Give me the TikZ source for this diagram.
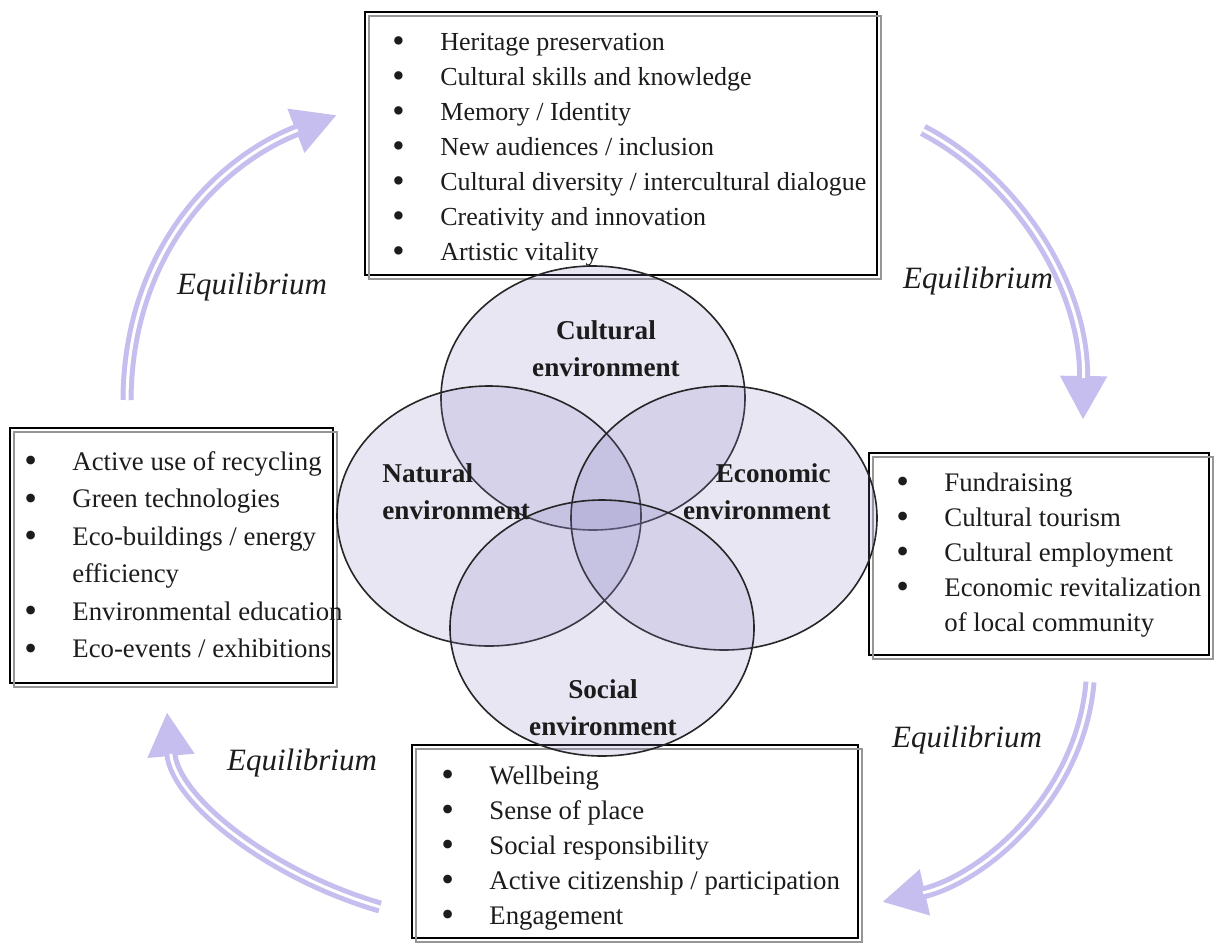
\documentclass[tikz,border=0pt]{standalone}
\usepackage{fontspec}
\setmainfont{Liberation Serif}
\usetikzlibrary{arrows.meta}
\definecolor{arrowcol}{RGB}{198,190,238}
\definecolor{vennfill}{RGB}{140,130,195}
\definecolor{txt}{RGB}{28,28,28}
\definecolor{shadowgray}{RGB}{150,150,150}
\newcommand\bul{\raisebox{-0.1em}{\scalebox{1.35}{\textbullet}}}
\begin{document}
\begin{tikzpicture}[x=0.5pt,y=-0.5pt,
  box/.style={draw=black, line width=1pt, fill=white},
  boxshadow/.style={draw=shadowgray, line width=0.7pt},
  venn/.style={draw=black!85, line width=0.8pt, fill=vennfill, fill opacity=0.2},
  lbl/.style={font=\fontsize{13.6}{18.5}\selectfont\bfseries, text=txt, inner sep=0pt},
  eq/.style={font=\fontsize{15.5}{17}\selectfont\itshape, text=txt, inner sep=0pt},
  list/.style={font=\fontsize{13.4}{17.5}\selectfont, text=txt, inner sep=0pt, anchor=base west},
  listtop/.style={list, font=\fontsize{13}{17.5}\selectfont},
  listwide/.style={list, font=\fontsize{13.4}{18.75}\selectfont},
  eqarrow/.style={draw=arrowcol, line width=6.5pt, -{Triangle[length=22pt,width=22pt]}},
  eqcore/.style={draw=white, line width=1.5pt, shorten >=21pt}
]
\useasboundingbox (0,0) rectangle (1214,943);
\fill[white] (0,0) rectangle (1214,943);

% box corners
\coordinate (topNW) at (365,12);   \coordinate (topSE) at (877,275);
\coordinate (leftNW) at (10,428);  \coordinate (leftSE) at (333,683);
\coordinate (rightNW) at (869,453); \coordinate (rightSE) at (1209,655);
\coordinate (botNW) at (412,745);  \coordinate (botSE) at (858,938);

% boxes
\foreach \b in {top,left,right,bot}{
  \draw[box] (\b NW) rectangle (\b SE);
  \draw[boxshadow] ([shift={(4,4)}]\b NW) rectangle ([shift={(4,4)}]\b SE);
}

% Venn ellipses
\draw[venn] (593,398) ellipse [x radius=152, y radius=132];
\draw[venn] (489,516) ellipse [x radius=152, y radius=130];
\draw[venn] (724,518) ellipse [x radius=153, y radius=132];
\draw[venn] (602,628) ellipse [x radius=152, y radius=128];

% Venn labels
\node[lbl, align=center] (cultural) at (606,349) {Cultural\\environment};
\node[lbl, align=left, anchor=west] (natural) at (382,492) {Natural\\environment};
\node[lbl, align=right, anchor=east] (economic) at (831,492) {Economic\\environment};
\node[lbl, align=center] (social) at (603,708) {Social\\environment};

% lists
\node[listtop] (toplist) at (392,50) {\begin{tabular}[t]{@{}p{24pt}@{}l@{}}
\bul & Heritage preservation\\
\bul & Cultural skills and knowledge\\
\bul & Memory / Identity\\
\bul & New audiences / inclusion\\
\bul & Cultural diversity / intercultural dialogue\\
\bul & Creativity and innovation\\
\bul & Artistic vitality
\end{tabular}};

\node[listwide] (leftlist) at (24,470) {\begin{tabular}[t]{@{}p{24pt}@{}l@{}}
\bul & Active use of recycling\\
\bul & Green technologies\\
\bul & Eco-buildings / energy\\
 & efficiency\\
\bul & Environmental education\\
\bul & Eco-events / exhibitions
\end{tabular}};

\node[list] (rightlist) at (896,491) {\begin{tabular}[t]{@{}p{24pt}@{}l@{}}
\bul & Fundraising\\
\bul & Cultural tourism\\
\bul & Cultural employment\\
\bul & Economic revitalization\\
 & of local community
\end{tabular}};

\node[list] (botlist) at (441,784) {\begin{tabular}[t]{@{}p{24pt}@{}l@{}}
\bul & Wellbeing\\
\bul & Sense of place\\
\bul & Social responsibility\\
\bul & Active citizenship / participation\\
\bul & Engagement
\end{tabular}};

% Equilibrium labels
\node[eq] (eqTL) at (252,287) {Equilibrium};
\node[eq] (eqTR) at (978,281) {Equilibrium};
\node[eq] (eqBR) at (967,740) {Equilibrium};
\node[eq] (eqBL) at (302,763) {Equilibrium};

% arrows
\coordinate (a1s) at (127,400); \coordinate (a1e) at (337,115);
\coordinate (a2s) at (923,130); \coordinate (a2e) at (1083,420);
\coordinate (a3s) at (1090,682); \coordinate (a3e) at (882,902);
\coordinate (a4s) at (380,907); \coordinate (a4e) at (167,712);

\draw[eqarrow] (a1s) .. controls (128,250) and (220,160) .. (a1e);
\draw[eqcore]  (a1s) .. controls (128,250) and (220,160) .. (a1e);
\draw[eqarrow] (a2s) .. controls (1010,175) and (1085,280) .. (a2e);
\draw[eqcore]  (a2s) .. controls (1010,175) and (1085,280) .. (a2e);
\draw[eqarrow] (a3s) .. controls (1080,800) and (980,880) .. (a3e);
\draw[eqcore]  (a3s) .. controls (1080,800) and (980,880) .. (a3e);
\draw[eqarrow] (a4s) .. controls (270,875) and (175,800) .. (a4e);
\draw[eqcore]  (a4s) .. controls (270,875) and (175,800) .. (a4e);
\end{tikzpicture}
\end{document}
